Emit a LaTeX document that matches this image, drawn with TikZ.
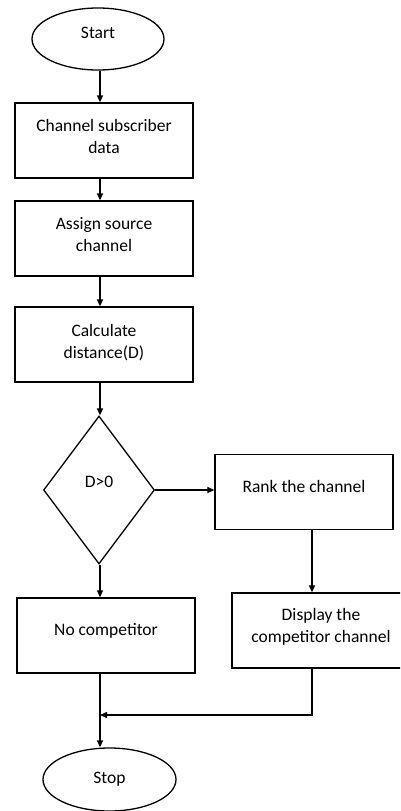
\documentclass[tikz,border=0pt]{standalone}
\usepackage{fontspec}
\setmainfont{Carlito}
\usetikzlibrary{shapes.geometric,arrows.meta}
\tikzset{
  every node/.style={font=\fontsize{17.5}{22}\selectfont, align=center, inner sep=0pt},
  boxnode/.style={draw, line width=1.3pt, rectangle, minimum width=178pt, minimum height=75pt},
  term/.style={draw, line width=1.3pt, ellipse, minimum width=132pt, minimum height=62pt},
  decis/.style={draw, line width=1.3pt, diamond, minimum width=111pt, minimum height=148pt},
  arr/.style={line width=1.3pt, -{Triangle[length=7pt,width=6pt]}},
  ln/.style={line width=1.3pt}
}
\begin{document}
\begin{tikzpicture}[x=1pt,y=-1pt]
\useasboundingbox (0,0) rectangle (400,811);
\clip (0,0) rectangle (400,811);
\fill[white] (0,0) rectangle (400,811);
\coordinate (col) at (100,0);
\coordinate (rcol) at (312,0);
\node[term] (start) at (98,39) {Start\\[-10pt]};
\node[boxnode] (b1) at (104,140.5) {Channel subscriber\\data\\[-13pt]};
\node[boxnode] (b2) at (104,238.5) {Assign source\\channel\\[-13pt]};
\node[boxnode] (b3) at (104,344.5) {Calculate\\distance(D)\\[-15pt]};
\node[decis] (dia) at (99,490) {D>0\\[-6pt]};
\node[boxnode] (rank) at (304,492) {Rank the channel\\[-10pt]};
\node[boxnode] (disp) at (321,630.5) {Display the\\competitor channel\\[-11pt]};
\node[boxnode] (noc) at (106,635.5) {No competitor\\[-9pt]};
\node[term, minimum width=133pt, minimum height=63pt] (stop) at (109.5,779.5) {Stop};
\coordinate (merge) at (100,715);

\draw[arr] (col |- start.south) -- (col |- b1.north);
\draw[arr] (col |- b1.south) -- (col |- b2.north);
\draw[arr] (col |- b2.south) -- (col |- b3.north);
\draw[arr] (col |- b3.south) -- (col |- dia.north);
\draw[arr] (dia.east) -- (dia.east -| rank.west);
\draw[arr] (col |- dia.south) -- (col |- noc.north);
\draw[arr] (rcol |- rank.south) -- (rcol |- disp.north);
\draw[arr] (col |- noc.south) -- (col |- stop.north);
\draw[arr] (rcol |- disp.south) -- (rcol |- merge) -- (merge);
\end{tikzpicture}
\end{document}
